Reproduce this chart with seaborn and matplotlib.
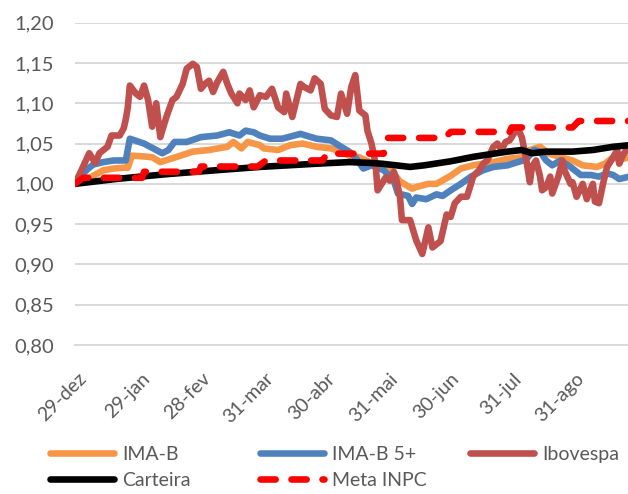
import matplotlib
matplotlib.use("Agg")
import matplotlib.pyplot as plt
import matplotlib.transforms as mtransforms
import pandas as pd
import seaborn as sns

start = pd.Timestamp("2017-12-29")

# days counted from 29-dez
ima_b_days = [0, 4, 9, 14, 19, 24, 26, 28, 34, 38, 42, 47, 52, 58, 66, 75, 78, 82, 85, 91,
              93, 100, 106, 112, 119, 126, 131, 135, 140, 145, 150, 155, 160, 166, 168, 174, 178, 185, 190, 196,
              206, 213, 220, 224, 229, 233, 239, 245, 250, 257, 261, 265, 268, 273]
ima_b_vals = [1.000, 1.003, 1.010, 1.017, 1.019, 1.020, 1.020, 1.035, 1.034, 1.033,
              1.027, 1.031, 1.035, 1.040, 1.042, 1.046, 1.052, 1.044, 1.052, 1.048,
              1.044, 1.042, 1.048, 1.050, 1.046, 1.044, 1.040, 1.035, 1.033, 1.027,
              1.021, 1.019, 1.003, 0.994, 0.996, 1.000, 1.000, 1.010, 1.019, 1.023,
              1.027, 1.031, 1.033, 1.042, 1.046, 1.038, 1.033, 1.029, 1.023, 1.021,
              1.025, 1.033, 1.030, 1.033]

ima_b5_days = [0, 3, 6, 9, 14, 19, 25, 27, 34, 37, 40, 43, 46, 49, 55, 62, 70, 76, 81, 84, 88,
               91, 96, 102, 111, 119, 126, 131, 135, 138, 142, 146, 152, 157, 159, 164, 166, 168, 173, 178, 181,
               185, 190, 195, 201, 206, 213, 218, 222, 226, 229, 232, 235, 239, 244, 249, 254, 258, 262, 265, 268, 273]
ima_b5_vals = [1.000, 1.010, 1.018, 1.024, 1.027, 1.029, 1.029, 1.056, 1.050, 1.046, 1.042,
               1.038, 1.042, 1.052, 1.052, 1.058, 1.060, 1.064, 1.060, 1.066, 1.064,
               1.060, 1.056, 1.056, 1.062, 1.056, 1.054, 1.046, 1.040, 1.033, 1.019,
               1.023, 1.017, 1.004, 0.988, 0.985, 0.975, 0.983, 0.981, 0.987, 0.985,
               0.992, 1.000, 1.009, 1.017, 1.021, 1.023, 1.027, 1.030, 1.042, 1.040,
               1.029, 1.023, 1.029, 1.021, 1.011, 1.011, 1.009, 1.013, 1.011, 1.006,
               1.009]

ibov_days = [0, 3, 7, 10, 12, 16, 18, 22, 24, 25, 26, 27, 30, 32, 34, 36, 38, 40, 42, 45,
             48, 50, 53, 55, 58, 60, 62, 64, 66, 68, 70, 73, 75, 77, 80, 81, 84, 86, 88, 91,
             94, 97, 100, 103, 104, 107, 111, 113, 116, 118, 121, 123, 126, 129, 131, 134, 136, 138, 140, 143,
             144, 146, 148, 149, 151, 153, 155, 157, 158, 160, 161, 165, 168, 171, 174, 176, 180, 183, 185, 187,
             190, 193, 195, 196, 199, 201, 203, 206, 208, 210, 212, 214, 216, 218, 220, 222, 224, 225, 227, 229,
             230, 232, 234, 235, 238, 240, 241, 244, 245, 247, 250, 252, 255, 256, 258, 260, 262, 265, 267, 268,
             270, 273]
ibov_vals = [1.000, 1.016, 1.038, 1.026, 1.038, 1.046, 1.060, 1.060, 1.069, 1.080,
             1.095, 1.122, 1.112, 1.108, 1.122, 1.104, 1.071, 1.100, 1.058, 1.083,
             1.104, 1.108, 1.124, 1.143, 1.149, 1.145, 1.118, 1.124, 1.128, 1.114,
             1.126, 1.139, 1.124, 1.112, 1.100, 1.112, 1.104, 1.116, 1.095, 1.110,
             1.108, 1.118, 1.095, 1.089, 1.112, 1.083, 1.124, 1.120, 1.116, 1.131,
             1.124, 1.093, 1.085, 1.083, 1.112, 1.087, 1.120, 1.135, 1.091, 1.085,
             1.066, 1.050, 1.025, 0.992, 1.000, 1.008, 1.004, 1.015, 1.008, 0.984,
             0.955, 0.955, 0.930, 0.913, 0.946, 0.921, 0.929, 0.962, 0.959, 0.976,
             0.984, 0.984, 1.000, 1.009, 1.017, 1.025, 1.029, 1.046, 1.050, 1.042,
             1.052, 1.054, 1.062, 1.069, 1.058, 1.033, 1.002, 1.021, 1.029, 1.009,
             0.992, 0.996, 1.009, 0.988, 1.009, 1.029, 1.017, 1.000, 1.002, 0.984,
             1.000, 0.981, 1.000, 0.978, 0.976, 1.000, 1.021, 1.033, 1.042, 1.025,
             1.037, 1.046]

carteira_days = [0, 20, 45, 70, 91, 105, 119, 135, 145, 151, 158, 165, 172, 185, 196, 205,
                 213, 220, 225, 232, 245, 255, 265, 273]
carteira_vals = [1.000, 1.006, 1.012, 1.017, 1.021, 1.023, 1.025, 1.027, 1.026, 1.025, 1.023, 1.021,
                 1.023, 1.028, 1.0335, 1.037, 1.040, 1.042, 1.038, 1.040, 1.040, 1.042, 1.046, 1.048]

meta_days = [0, 4, 33, 34, 61, 62, 90, 94, 122, 124, 152, 154, 182, 185, 214, 215, 245, 248, 273]
meta_vals = [1.000, 1.0075, 1.0075, 1.015, 1.015, 1.0215, 1.0215, 1.029, 1.029, 1.0375,
             1.0375, 1.057, 1.057, 1.0645, 1.0645, 1.070, 1.070, 1.078, 1.078]

tick_dates = ["2017-12-29", "2018-01-29", "2018-02-28", "2018-03-31", "2018-04-30",
              "2018-05-31", "2018-06-30", "2018-07-31", "2018-08-31"]
tick_labels = ["29-dez", "29-jan", "28-fev", "31-mar", "30-abr", "31-mai", "30-jun", "31-jul", "31-ago"]
y_ticks = [0.80, 0.85, 0.90, 0.95, 1.00, 1.05, 1.10, 1.15, 1.20]


def frame(days, vals):
    return pd.DataFrame({"data": start + pd.to_timedelta(days, unit="D"), "valor": vals})


sns.set_style("white")
plt.rcParams["font.family"] = ["Lato", "DejaVu Sans"]

fig = plt.figure(figsize=(6.28, 4.94), dpi=100)
ax = fig.add_axes([75 / 628, 149 / 494, 553 / 628, 322.3 / 494])

series = [
    ("IMA-B", ima_b_days, ima_b_vals, "#F79646"),
    ("IMA-B 5+", ima_b5_days, ima_b5_vals, "#4F81BD"),
    ("Ibovespa", ibov_days, ibov_vals, "#C0504D"),
    ("Carteira", carteira_days, carteira_vals, "#000000"),
]
for name, d, v, c in series:
    sns.lineplot(data=frame(d, v), x="data", y="valor", ax=ax, color=c, linewidth=4.75,
                 label=name, legend=False, estimator=None,
                 solid_capstyle="round", solid_joinstyle="round")

sns.lineplot(data=frame(meta_days, meta_vals), x="data", y="valor", ax=ax, color="#FF0000",
             linewidth=4.75, label="Meta INPC", legend=False, estimator=None,
             linestyle=(0, (2.3, 2.4)), dash_capstyle="round", dash_joinstyle="round")

ax.set_xlim(start, start + pd.Timedelta(days=272.3))
ax.set_ylim(0.80, 1.20)
ax.set_xticks(pd.to_datetime(tick_dates))
ax.set_xticklabels(tick_labels, rotation=45, ha="right", rotation_mode="anchor")
ax.set_yticks(y_ticks)
ax.set_yticklabels([f"{t:.2f}".replace(".", ",") for t in y_ticks])
ax.set_xlabel("")
ax.set_ylabel("")

ax.yaxis.grid(True, color="#D9D9D9", linewidth=1.4)
ax.xaxis.grid(False)
for s in ["left", "top", "right"]:
    ax.spines[s].set_visible(False)
ax.spines["bottom"].set_color("#D9D9D9")
ax.spines["bottom"].set_linewidth(1.4)
ax.tick_params(axis="y", length=0, pad=15, labelsize=14.5, labelcolor="#595959")
ax.tick_params(axis="x", length=4, width=1.4, color="#D9D9D9", pad=14,
               labelsize=14, labelcolor="#595959")
shift = mtransforms.ScaledTranslation(3 / 100, 0, fig.dpi_scale_trans)
for lab in ax.get_xticklabels():
    lab.set_transform(lab.get_transform() + shift)

handles, labels = ax.get_legend_handles_labels()
h = dict(zip(labels, handles))
leg_kw = dict(frameon=False, fontsize=14, handlelength=3.3, handletextpad=0.4,
              labelspacing=0.45, borderpad=0, borderaxespad=0, labelcolor="#595959",
              loc="upper left")
top = 1 - 446 / 494
fig.legend([h["IMA-B"], h["Carteira"]], ["IMA-B", "Carteira"],
           bbox_to_anchor=(50 / 628, top), **leg_kw)
fig.legend([h["IMA-B 5+"], h["Meta INPC"]], ["IMA-B 5+", "Meta INPC"],
           bbox_to_anchor=(260 / 628, top), **leg_kw)
fig.legend([h["Ibovespa"]], ["Ibovespa"],
           bbox_to_anchor=(470 / 628, top), **leg_kw)

fig.savefig("out.png", dpi=100)
